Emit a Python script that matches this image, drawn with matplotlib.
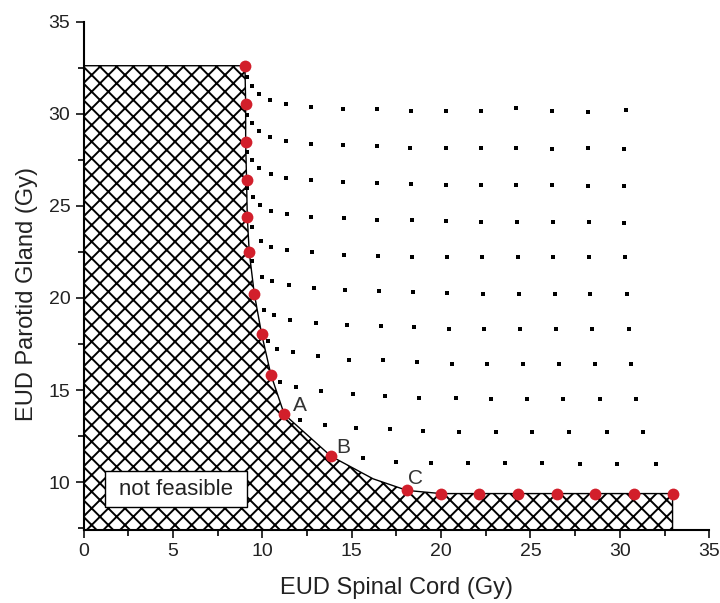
# Pareto front of EUD spinal cord vs EUD parotid gland
import matplotlib.pyplot as plt
from matplotlib.patches import Polygon, Rectangle

plt.rcParams['font.family'] = ['Liberation Sans', 'DejaVu Sans']

# Pareto-optimal points (red)
front_x = [9.03, 9.07, 9.07, 9.12, 9.16, 9.27, 9.55, 9.96, 10.48, 11.23, 13.84, 18.10,
           19.99, 22.11, 24.28, 26.46, 28.60, 30.78, 32.95]
front_y = [32.61, 30.51, 28.46, 26.43, 24.40, 22.50, 20.24, 18.06, 15.84, 13.68, 11.41, 9.55,
           9.38, 9.38, 9.38, 9.38, 9.38, 9.38, 9.38]

# extra point on the boundary between B and C (curved segment)
bend_x = 16.20
bend_y = 10.18

# dominated solutions (black squares), one list per row
row_x = [
    [9.16, 9.44, 9.81, 10.43, 11.30, 12.70, 14.52, 16.39, 18.31, 20.25, 22.21, 24.22, 26.21, 28.23, 30.34],
    [9.16, 9.44, 9.82, 10.43, 11.30, 12.70, 14.52, 16.39, 18.29, 20.25, 22.21, 24.22, 26.21, 28.23, 30.22],
    [9.16, 9.44, 9.82, 10.46, 11.30, 12.70, 14.52, 16.39, 18.31, 20.25, 22.21, 24.22, 26.21, 28.23, 30.22],
    [9.16, 9.46, 9.87, 10.46, 11.36, 12.73, 14.56, 16.43, 18.35, 20.30, 22.23, 24.26, 26.24, 28.25, 30.26],
    [9.40, 9.91, 10.48, 11.39, 12.79, 14.58, 16.48, 18.38, 20.31, 22.27, 24.31, 26.27, 28.28, 30.30],
    [9.44, 9.96, 10.55, 11.49, 12.89, 14.62, 16.52, 18.41, 20.36, 22.36, 24.35, 26.37, 28.36, 30.38],
    [10.09, 10.65, 11.54, 12.98, 14.75, 16.62, 18.50, 20.45, 22.41, 24.41, 26.42, 28.47, 30.49],
    [10.30, 10.80, 11.70, 13.13, 14.86, 16.76, 18.66, 20.59, 22.56, 24.56, 26.59, 28.60, 30.65],
    [10.98, 11.86, 13.28, 15.05, 16.87, 18.78, 20.81, 22.77, 24.78, 26.83, 28.88, 30.90],
    [12.10, 13.50, 15.22, 17.14, 19.00, 21.01, 23.05, 25.10, 27.16, 29.26, 31.30],
    [15.64, 17.46, 19.43, 21.48, 23.57, 25.65, 27.76, 29.87, 32.00],
]
row_y = [
    [32.01, 31.51, 31.05, 30.74, 30.53, 30.38, 30.27, 30.24, 30.16, 30.13, 30.16, 30.29, 30.16, 30.11, 30.20],
    [29.93, 29.48, 29.06, 28.73, 28.52, 28.37, 28.28, 28.23, 28.17, 28.15, 28.15, 28.12, 28.10, 28.14, 28.10],
    [27.93, 27.48, 27.03, 26.74, 26.54, 26.40, 26.30, 26.25, 26.18, 26.14, 26.12, 26.12, 26.11, 26.09, 26.09],
    [25.95, 25.46, 25.04, 24.73, 24.55, 24.40, 24.33, 24.26, 24.21, 24.18, 24.13, 24.13, 24.13, 24.10, 24.08],
    [23.86, 23.08, 22.77, 22.59, 22.47, 22.34, 22.28, 22.25, 22.21, 22.20, 22.20, 22.20, 22.20, 22.20],
    [21.99, 21.14, 20.91, 20.69, 20.54, 20.46, 20.36, 20.33, 20.27, 20.24, 20.24, 20.24, 20.24, 20.22],
    [19.37, 19.06, 18.83, 18.65, 18.55, 18.46, 18.41, 18.34, 18.30, 18.30, 18.30, 18.30, 18.30],
    [17.66, 17.25, 17.06, 16.83, 16.65, 16.61, 16.50, 16.43, 16.40, 16.40, 16.40, 16.40, 16.40],
    [15.43, 15.16, 14.93, 14.80, 14.67, 14.59, 14.59, 14.52, 14.52, 14.52, 14.52, 14.52],
    [13.35, 13.13, 12.96, 12.86, 12.77, 12.72, 12.70, 12.70, 12.70, 12.70, 12.70],
    [11.33, 11.09, 11.05, 11.04, 11.04, 11.04, 11.00, 11.00, 11.00],
]

point_labels = ['A', 'B', 'C']
label_x = [12.10, 14.52, 18.57]
label_y = [14.17, 11.90, 10.22]

xmin, xmax = 0, 35
ymin, ymax = 7.4, 35

fig = plt.figure(figsize=(7.2, 6.03), dpi=100)
ax = fig.add_axes([0.116, 0.121, 0.869, 0.843])

# infeasible region: everything below/left of the front
boundary = list(zip(front_x[:11], front_y[:11])) + [(bend_x, bend_y)] + list(zip(front_x[11:], front_y[11:]))
verts = [(xmin, front_y[0])] + boundary + [(front_x[-1], ymin), (xmin, ymin)]
plt.rcParams['hatch.linewidth'] = 1.4
ax.add_patch(Polygon(verts, closed=True, facecolor='white', edgecolor='black',
                     hatch='xx', linewidth=1.0, zorder=1))

for xs, ys in zip(row_x, row_y):
    ax.plot(xs, ys, 's', color='black', ms=3.2, mew=0, zorder=3)

ax.plot(front_x, front_y, 'o', color='#d21f2b', ms=8.5, mew=0, zorder=4)

for t, x, y in zip(point_labels, label_x, label_y):
    ax.text(x, y, t, fontsize=15, color='#333333', ha='center', va='center', zorder=5)

# "not feasible" box
ax.add_patch(Rectangle((1.2, 8.64), 7.94, 1.96, facecolor='white', edgecolor='black',
                       linewidth=1.0, zorder=5))
ax.text(5.17, 9.62, 'not feasible', fontsize=16, color='#222222', ha='center', va='center', zorder=6)

ax.set_xlim(xmin, xmax)
ax.set_ylim(ymin, ymax)
ax.set_xticks(range(0, 36, 5))
ax.set_yticks(range(10, 36, 5))
ax.set_xticks([2.5 + 5 * i for i in range(7)], minor=True)
ax.set_yticks([7.5 + 5 * i for i in range(6)], minor=True)
ax.tick_params(which='major', direction='out', length=6, width=1.3, labelsize=14, colors='#222222')
ax.tick_params(which='minor', direction='out', length=4, width=1.2)
ax.spines['top'].set_visible(False)
ax.spines['right'].set_visible(False)
ax.spines['left'].set_linewidth(1.5)
ax.spines['bottom'].set_linewidth(1.5)

ax.set_xlabel('EUD Spinal Cord (Gy)', fontsize=17, color='#222222', labelpad=12)
ax.set_ylabel('EUD Parotid Gland (Gy)', fontsize=17, color='#222222', labelpad=12)
ax.yaxis.set_label_coords(-0.072, 0.465)

fig.savefig('out.png', dpi=100)
